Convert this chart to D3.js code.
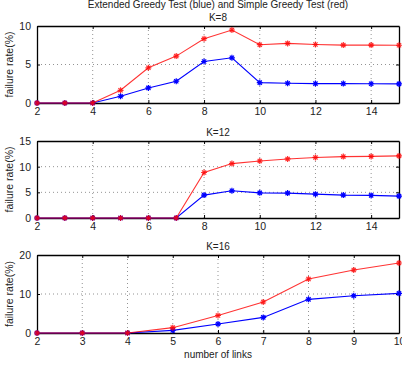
<!DOCTYPE html>
<html>
<head>
<meta charset="utf-8">
<script src="https://cdn.jsdelivr.net/npm/d3@7"></script>
<style>
  body { margin: 0; background: #fff; }
  text { font-family: "Liberation Sans", Arial, sans-serif; fill: #222; }
</style>
</head>
<body>
<div id="chart"></div>
<script>
// SVG area
var svgWidth = 402;
var svgHeight = 366;

// Panel data: number of links (x) and failure rates (%)
var linksK8 = [2, 3, 4, 5, 6, 7, 8, 9, 10, 11, 12, 13, 14, 15];
var extendedK8 = [0, 0, 0, 0.87, 1.96, 2.83, 5.39, 5.87, 2.65, 2.57, 2.52, 2.52, 2.5, 2.48];
var simpleK8 = [0, 0, 0, 1.65, 4.57, 6.09, 8.35, 9.48, 7.57, 7.74, 7.6, 7.52, 7.52, 7.5];

var linksK12 = [2, 3, 4, 5, 6, 7, 8, 9, 10, 11, 12, 13, 14, 15];
var extendedK12 = [0, 0, 0, 0, 0, 0, 4.46, 5.3, 4.9, 4.85, 4.65, 4.46, 4.4, 4.27];
var simpleK12 = [0, 0, 0, 0, 0, 0, 8.86, 10.6, 11.1, 11.5, 11.8, 11.96, 12.0, 12.1];

var linksK16 = [2, 3, 4, 5, 6, 7, 8, 9, 10];
var extendedK16 = [0, 0, 0, 0.68, 2.3, 4.0, 8.63, 9.57, 10.17];
var simpleK16 = [0, 0, 0, 1.37, 4.5, 7.95, 13.85, 16.15, 17.95];

// Tick values
var xTicksK8 = [2, 4, 6, 8, 10, 12, 14];
var yTicksK8 = [0, 5, 10];
var xTicksK12 = [2, 4, 6, 8, 10, 12, 14];
var yTicksK12 = [0, 5, 10, 15];
var xTicksK16 = [2, 3, 4, 5, 6, 7, 8, 9, 10];
var yTicksK16 = [0, 10, 20];

var panels = [
  {title: "K=8", links: linksK8, ext: extendedK8, simple: simpleK8,
   xDomain: [2, 15], yDomain: [0, 10], xTicks: xTicksK8, yTicks: yTicksK8, top: 26, bottom: 103},
  {title: "K=12", links: linksK12, ext: extendedK12, simple: simpleK12,
   xDomain: [2, 15], yDomain: [0, 15], xTicks: xTicksK12, yTicks: yTicksK12, top: 141, bottom: 218},
  {title: "K=16", links: linksK16, ext: extendedK16, simple: simpleK16,
   xDomain: [2, 10], yDomain: [0, 20], xTicks: xTicksK16, yTicks: yTicksK16, top: 255, bottom: 333}
];

var left = 37;
var right = 399;

var svg = d3.select("#chart")
  .append("svg")
  .attr("width", svgWidth)
  .attr("height", svgHeight);

// Main title
svg.append("text")
  .attr("x", (left + right) / 2)
  .attr("y", 8)
  .attr("text-anchor", "middle")
  .style("font-size", "10px")
  .text("Extended Greedy Test (blue) and Simple Greedy Test (red)");

// asterisk marker path
function starPath(r) {
  var d = r * 0.7071;
  return `M${-r},0L${r},0M0,${-r}L0,${r}M${-d},${-d}L${d},${d}M${-d},${d}L${d},${-d}`;
}

panels.forEach(function(p, idx) {
  var x = d3.scaleLinear().domain(p.xDomain).range([left, right]);
  var y = d3.scaleLinear().domain(p.yDomain).range([p.bottom, p.top]);

  var g = svg.append("g");

  // title
  g.append("text")
    .attr("x", (left + right) / 2)
    .attr("y", p.top - 5)
    .attr("text-anchor", "middle")
    .style("font-size", "10px")
    .text(p.title);

  // grid lines
  g.selectAll(".vgrid")
    .data(p.xTicks.filter(d => d > p.xDomain[0] && d < p.xDomain[1]))
    .enter()
    .append("line")
    .attr("x1", d => x(d)).attr("x2", d => x(d))
    .attr("y1", p.top).attr("y2", p.bottom)
    .attr("stroke", "#777")
    .attr("stroke-width", 0.8)
    .attr("stroke-dasharray", "1,3");

  g.selectAll(".hgrid")
    .data(p.yTicks.filter(d => d > p.yDomain[0] && d < p.yDomain[1]))
    .enter()
    .append("line")
    .attr("x1", left).attr("x2", right)
    .attr("y1", d => y(d)).attr("y2", d => y(d))
    .attr("stroke", "#777")
    .attr("stroke-width", 0.8)
    .attr("stroke-dasharray", "1,3");

  // axes with inward ticks
  var bottomAxis = d3.axisBottom(x).tickValues(p.xTicks).tickFormat(d3.format("d"))
    .tickSizeInner(-3).tickSizeOuter(0).tickPadding(5);
  var leftAxis = d3.axisLeft(y).tickValues(p.yTicks).tickFormat(d3.format("d"))
    .tickSizeInner(-3).tickSizeOuter(0).tickPadding(6);
  var topAxis = d3.axisTop(x).tickValues(p.xTicks).tickFormat("")
    .tickSizeInner(-3).tickSizeOuter(0);
  var rightAxis = d3.axisRight(y).tickValues(p.yTicks).tickFormat("")
    .tickSizeInner(-3).tickSizeOuter(0);

  [[bottomAxis, `translate(0,${p.bottom})`], [leftAxis, `translate(${left},0)`],
   [topAxis, `translate(0,${p.top})`], [rightAxis, `translate(${right},0)`]]
    .forEach(function(a) {
      var ax = g.append("g").attr("transform", a[1]).call(a[0]);
      ax.select(".domain").attr("stroke", "#000").attr("stroke-width", 1.3);
      ax.selectAll(".tick line").attr("stroke", "#000");
      ax.selectAll("text").style("font-size", "10.5px").attr("fill", "#222");
    });

  // y label
  g.append("text")
    .attr("transform", `translate(13, ${(p.top + p.bottom) / 2}) rotate(-90)`)
    .attr("text-anchor", "middle")
    .style("font-size", "10.5px")
    .text("failure rate(%)");

  var line = d3.line().x(d => x(d[0])).y(d => y(d[1]));

  var series = [
    {vals: p.ext, color: "#0000ff", opacity: 1},
    {vals: p.simple, color: "#ff0000", opacity: 0.8}
  ];

  series.forEach(function(s) {
    var pts = p.links.map((v, i) => [v, s.vals[i]]);
    g.append("path")
      .datum(pts)
      .attr("d", line)
      .attr("fill", "none")
      .attr("stroke", s.color)
      .attr("stroke-opacity", s.opacity)
      .attr("stroke-width", 1.1);

    g.selectAll(null)
      .data(pts)
      .enter()
      .append("path")
      .attr("transform", d => `translate(${x(d[0])},${y(d[1])})`)
      .attr("d", starPath(3))
      .attr("stroke", s.color)
      .attr("stroke-opacity", s.opacity)
      .attr("stroke-width", 1.2)
      .attr("fill", "none");
  });

  if (idx === 2) {
    g.append("text")
      .attr("x", (left + right) / 2)
      .attr("y", 357.5)
      .attr("text-anchor", "middle")
      .style("font-size", "10px")
      .text("number of links");
  }
});
</script>
</body>
</html>
